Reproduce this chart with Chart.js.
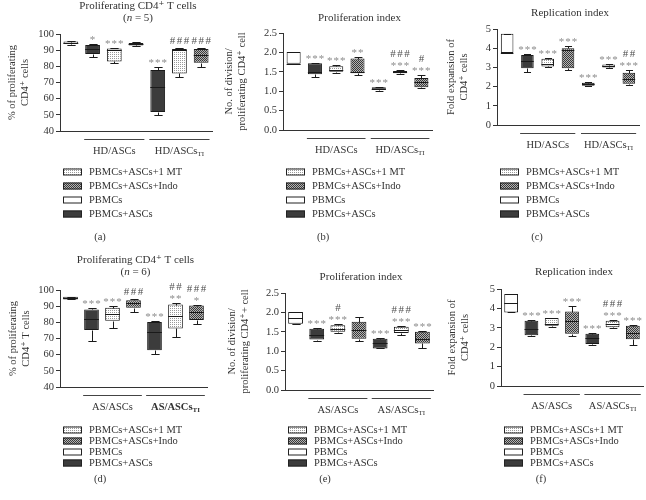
<!DOCTYPE html>
<html>
<head>
<meta charset="utf-8">
<script src="https://cdn.jsdelivr.net/npm/chart.js@4.4.0/dist/chart.umd.min.js"></script>
<style>
  body { margin: 0; background: #fff; }
  #page { position: relative; width: 646px; height: 500px; overflow: hidden; }
  #page canvas { position: absolute; }
</style>
</head>
<body>
<div id="page"></div>
<script>
const FONT = "'Liberation Serif', 'DejaVu Serif', serif";
const INK = "#333";

// categories, same order in every panel
const categories = ["PBMCs", "PBMCs+ASCs", "PBMCs+ASCs+1 MT", "PBMCs+ASCs+Indo", "PBMCs+ASCs", "PBMCs+ASCs+1 MT", "PBMCs+ASCs+Indo"];
const legendLabels = ["PBMCs+ASCs+1 MT", "PBMCs+ASCs+Indo", "PBMCs", "PBMCs+ASCs"];

// box values per category: [min, q1, median, q3, max]
const boxesA = [
  [93.5, 93.8, 94.5, 95.3, 95.5],
  [86.0, 87.6, 91.0, 93.2, 93.6],
  [81.8, 83.0, 90.0, 91.1, 91.5],
  [92.5, 92.9, 93.6, 94.5, 94.9],
  [49.7, 51.8, 67.3, 77.7, 79.3],
  [73.1, 75.6, 90.0, 90.7, 91.1],
  [79.7, 82.2, 87.0, 90.7, 91.1],
];
const starsA = ["", "*", "***", "", "***", "", ""];
const hashesA = ["", "", "", "", "", "###", "###"];

const boxesB = [
  [1.71, 1.71, 1.71, 2.01, 2.01],
  [1.37, 1.44, 1.50, 1.72, 1.73],
  [1.48, 1.50, 1.55, 1.64, 1.67],
  [1.41, 1.46, 1.50, 1.84, 1.87],
  [1.01, 1.03, 1.06, 1.10, 1.11],
  [1.45, 1.46, 1.49, 1.52, 1.54],
  [1.07, 1.10, 1.24, 1.34, 1.43],
];
const starsB = ["", "***", "***", "**", "***", "***", "***"];
const hashesB = ["", "", "", "", "", "###", "#"];

const boxesC = [
  [3.75, 3.75, 3.75, 4.75, 4.75],
  [2.78, 2.95, 3.35, 3.65, 3.68],
  [3.02, 3.05, 3.20, 3.45, 3.50],
  [2.86, 2.95, 3.90, 4.00, 4.13],
  [2.03, 2.05, 2.12, 2.20, 2.22],
  [2.98, 3.00, 3.08, 3.15, 3.20],
  [2.10, 2.15, 2.40, 2.72, 2.86],
];
const starsC = ["", "***", "***", "***", "***", "***", "***"];
const hashesC = ["", "", "", "", "", "", "##"];

const boxesD = [
  [94.2, 94.2, 95.0, 95.9, 95.9],
  [68.6, 75.2, 81.8, 88.0, 88.7],
  [76.8, 81.0, 85.1, 89.0, 90.1],
  [86.6, 89.0, 91.7, 93.6, 94.2],
  [60.3, 62.8, 74.0, 80.2, 81.0],
  [71.0, 76.2, 84.0, 91.0, 92.0],
  [78.9, 81.4, 86.5, 90.4, 91.0],
];
const starsD = ["", "***", "***", "", "***", "**", "*"];
const hashesD = ["", "", "", "###", "", "##", "###"];

const boxesE = [
  [1.71, 1.71, 1.86, 2.01, 2.01],
  [1.27, 1.30, 1.43, 1.58, 1.59],
  [1.48, 1.50, 1.58, 1.67, 1.70],
  [1.27, 1.32, 1.54, 1.76, 1.87],
  [1.07, 1.07, 1.20, 1.32, 1.33],
  [1.41, 1.47, 1.55, 1.63, 1.64],
  [1.07, 1.20, 1.32, 1.50, 1.52],
];
const starsE = ["", "***", "***", "", "***", "***", "***"];
const hashesE = ["", "", "#", "", "", "###", ""];

const boxesF = [
  [3.79, 3.79, 4.28, 4.74, 4.74],
  [2.59, 2.62, 2.95, 3.36, 3.38],
  [3.03, 3.10, 3.20, 3.50, 3.52],
  [2.59, 2.69, 3.33, 3.84, 4.14],
  [2.12, 2.16, 2.47, 2.69, 2.72],
  [3.00, 3.03, 3.20, 3.36, 3.41],
  [2.12, 2.41, 2.72, 3.10, 3.14],
];
const starsF = ["", "***", "***", "***", "***", "***", "***"];
const hashesF = ["", "", "", "", "", "###", ""];

// fill style of each category and of each legend row
const boxKinds = ["plain", "dark", "dots", "check", "dark", "dots", "check"];
const legendKinds = ["dots", "check", "plain", "dark"];

// row layout (canvas-local y)
const ROW_TOP = { legendY: [172, 186, 200, 214], letterY: 237 };
const ROW_BOTTOM = { legendY: [180, 191, 202, 213], letterY: 229 };

const panels = [
  { id: "a", boxes: boxesA, stars: starsA, hashes: hashesA, min: 40, max: 100, step: 10, dec: 0,
    title: ["Proliferating CD4⁺ T cells"], n: 5, yTitle: ["% of proliferating", "CD4⁺ cells"], group: "HD",
    canvas: [0, 0, 216, 250], plot: [60, 34, 212, 131], titleY: [6, 18], yPad: 7, bar: 0.68, row: ROW_TOP },
  { id: "b", boxes: boxesB, stars: starsB, hashes: hashesB, min: 0, max: 2.5, step: 0.5, dec: 1,
    title: ["Proliferation index"], yTitle: ["No. of division/", "proliferating CD4⁺ cell"], group: "HD",
    canvas: [216, 0, 218, 250], plot: [283, 33, 432, 130], titleY: [18], yPad: 8, bar: 0.66, row: ROW_TOP },
  { id: "c", boxes: boxesC, stars: starsC, hashes: hashesC, min: 0, max: 5, step: 1, dec: 0,
    title: ["Replication index"], yTitle: ["Fold expansion of", "CD4⁺ cells"], group: "HD",
    canvas: [434, 0, 212, 250], plot: [497, 29, 639, 125], titleY: [13], yPad: 12, bar: 0.62, row: ROW_TOP },
  { id: "d", boxes: boxesD, stars: starsD, hashes: hashesD, min: 40, max: 100, step: 10, dec: 0,
    title: ["Proliferating CD4⁺ T cells"], n: 6, yTitle: ["% of proliferating", "CD4⁺ T cells"], group: "AS", boldTI: true,
    canvas: [0, 250, 216, 250], plot: [60, 290, 207, 387], titleY: [10, 22], yPad: 8, bar: 0.7, row: ROW_BOTTOM },
  { id: "e", boxes: boxesE, stars: starsE, hashes: hashesE, min: 0, max: 2.5, step: 0.5, dec: 1,
    title: ["Proliferation index"], yTitle: ["No. of division/", "proliferating CD4⁺+ cell"], group: "AS",
    canvas: [216, 250, 218, 250], plot: [285, 293, 433, 390], titleY: [27], yPad: 11, bar: 0.7, row: ROW_BOTTOM },
  { id: "f", boxes: boxesF, stars: starsF, hashes: hashesF, min: 0, max: 5, step: 1, dec: 0,
    title: ["Replication index"], yTitle: ["Fold expansion of", "CD4⁺ cells"], group: "AS",
    canvas: [434, 250, 212, 250], plot: [501, 289, 643, 386], titleY: [22], yPad: 13, bar: 0.68, row: ROW_BOTTOM },
];

// pattern fills
const patternCtx = document.createElement("canvas").getContext("2d");
const makeFill = (kind) => {
  if (kind === "plain") return "#ffffff";
  if (kind === "dark") return "#3c3c3c";
  const c = document.createElement("canvas");
  c.width = 2;
  c.height = 2;
  const g = c.getContext("2d");
  if (kind === "dots") {
    g.fillStyle = "#ffffff";
    g.fillRect(0, 0, 2, 2);
    g.fillStyle = "#9a9a9a";
    g.fillRect(0, 0, 1, 1);
  } else {
    g.fillStyle = "#b4b4b4";
    g.fillRect(0, 0, 2, 2);
    g.fillStyle = "#3a3a3a";
    g.fillRect(0, 0, 1, 1);
    g.fillRect(1, 1, 1, 1);
  }
  return patternCtx.createPattern(c, "repeat");
};
const fills = {};
["plain", "dark", "dots", "check"].forEach((k) => (fills[k] = makeFill(k)));

// draw a run of text pieces centred on cx
const drawRich = (ctx, segs, cx, y) => {
  let total = 0;
  segs.forEach((s) => {
    ctx.font = s.font;
    total += ctx.measureText(s.t).width;
  });
  let x = cx - total / 2;
  ctx.textAlign = "left";
  segs.forEach((s) => {
    ctx.font = s.font;
    ctx.fillText(s.t, x, y + (s.dy || 0));
    x += ctx.measureText(s.t).width;
  });
};

const makeExtras = (p) => ({
  id: "extras" + p.id,
  afterDatasetsDraw(chart) {
    const { ctx, scales: { y } } = chart;
    const bars = chart.getDatasetMeta(0).data;
    const py = (v) => Math.round(y.getPixelForValue(v)) + 0.5;
    ctx.save();
    ctx.strokeStyle = "#1a1a1a";
    ctx.lineWidth = 1;
    bars.forEach((bar, i) => {
      const [lo, q1, med, q3, hi] = p.boxes[i];
      const x = Math.round(bar.x) + 0.5;
      const half = bar.width / 2;
      const cap = Math.max(3, bar.width * 0.28);
      ctx.beginPath();
      ctx.moveTo(x, py(hi));
      ctx.lineTo(x, py(q3));
      ctx.moveTo(x, py(q1));
      ctx.lineTo(x, py(lo));
      ctx.moveTo(x - cap, py(hi));
      ctx.lineTo(x + cap, py(hi));
      ctx.moveTo(x - cap, py(lo));
      ctx.lineTo(x + cap, py(lo));
      ctx.moveTo(bar.x - half, py(med));
      ctx.lineTo(bar.x + half, py(med));
      ctx.stroke();

      // significance marks above the top whisker
      const top = y.getPixelForValue(hi);
      ctx.textAlign = "center";
      ctx.textBaseline = "alphabetic";
      if (p.stars[i]) {
        ctx.font = "11px " + FONT;
        ctx.fillStyle = "#8c8c8c";
        ctx.letterSpacing = "1px";
        ctx.fillText(p.stars[i], bar.x + 0.5, top - 1);
      }
      if (p.hashes[i]) {
        ctx.font = "11px " + FONT;
        ctx.fillStyle = "#505050";
        ctx.letterSpacing = "1.5px";
        ctx.fillText(p.hashes[i], bar.x + 0.8, p.stars[i] ? top - 13 : top - 4);
      }
      ctx.letterSpacing = "0px";
    });
    ctx.restore();
  },
  afterDraw(chart) {
    const { ctx } = chart;
    const [cx, cy] = p.canvas;
    const [pl, pt, pr, pb] = p.plot;
    const bars = chart.getDatasetMeta(0).data;
    const F = "10.5px " + FONT;
    const TF = "11px " + FONT;
    ctx.save();
    ctx.fillStyle = INK;
    ctx.textBaseline = "middle";

    // title
    const mid = (pl + pr) / 2 - cx + 2;
    ctx.textAlign = "center";
    ctx.font = TF;
    ctx.fillText(p.title[0], mid, p.titleY[0]);
    if (p.n) {
      drawRich(ctx, [
        { t: "(", font: TF },
        { t: "n", font: "italic " + TF },
        { t: " = " + p.n + ")", font: TF },
      ], mid, p.titleY[1]);
    }

    // group lines and labels
    const lineY = Math.round(pb - cy + 8) + 0.5;
    const groups = [[1, 3], [4, 6]];
    ctx.strokeStyle = "#444";
    ctx.lineWidth = 1;
    groups.forEach(([a, b], gi) => {
      const x0 = bars[a].x - bars[a].width / 2 - 1;
      const x1 = bars[b].x + bars[b].width / 2 + 1;
      ctx.beginPath();
      ctx.moveTo(x0, lineY);
      ctx.lineTo(x1, lineY);
      ctx.stroke();
      const base = p.group + "/ASCs";
      const bold = gi === 1 && p.boldTI ? "bold " : "";
      const segs = gi === 0
        ? [{ t: base, font: F }]
        : [{ t: base, font: bold + F }, { t: "TI", font: bold + "7px " + FONT, dy: 3 }];
      drawRich(ctx, segs, (x0 + x1) / 2, lineY + 12);
    });

    // legend
    const lx = pl - cx + 3;
    p.row.legendY.forEach((ly, i) => {
      ctx.fillStyle = fills[legendKinds[i]];
      ctx.fillRect(lx, ly - 3.5, 19, 7);
      ctx.strokeStyle = "#222";
      ctx.strokeRect(lx + 0.5, ly - 3, 18, 6);
      ctx.fillStyle = INK;
      ctx.font = F;
      ctx.textAlign = "left";
      ctx.fillText(legendLabels[i], lx + 26, ly);
    });

    // panel letter
    ctx.textAlign = "center";
    ctx.font = F;
    ctx.fillText("(" + p.id + ")", pl - cx + 40, p.row.letterY);
    ctx.restore();
  },
});

const page = document.getElementById("page");

panels.forEach((p) => {
  const [cx, cy, cw, ch] = p.canvas;
  const [pl, pt, pr, pb] = p.plot;
  const el = document.createElement("canvas");
  el.width = cw;
  el.height = ch;
  el.style.left = cx + "px";
  el.style.top = cy + "px";
  page.appendChild(el);

  new Chart(el, {
    type: "bar",
    data: {
      labels: categories,
      datasets: [
        {
          data: p.boxes.map((b) => [b[1], b[3]]),
          backgroundColor: boxKinds.map((k) => fills[k]),
          borderColor: "#1a1a1a",
          borderWidth: 1,
          borderSkipped: false,
          barPercentage: p.bar,
          categoryPercentage: 1,
        },
      ],
    },
    options: {
      responsive: false,
      animation: false,
      devicePixelRatio: 1,
      layout: { padding: { left: 0, top: pt - cy, right: cx + cw - pr, bottom: cy + ch - pb } },
      plugins: { legend: { display: false }, tooltip: { enabled: false } },
      scales: {
        x: {
          grid: { display: false },
          ticks: { display: false },
          border: { color: INK },
          afterFit: (s) => { s.height = 0; },
        },
        y: {
          min: p.min,
          max: p.max,
          ticks: {
            stepSize: p.step,
            color: INK,
            padding: 2,
            font: { family: FONT, size: 10.5 },
            callback: (v) => Number(v).toFixed(p.dec),
          },
          grid: { drawOnChartArea: false, drawTicks: true, tickLength: 4, color: INK },
          border: { color: INK },
          title: {
            display: true,
            text: p.yTitle,
            color: INK,
            font: { family: FONT, size: 10.5 },
            padding: { top: p.yPad - 1, bottom: 0 },
          },
          afterFit: (s) => { s.width = pl - cx; },
        },
      },
    },
    plugins: [makeExtras(p)],
  });
});
</script>
</body>
</html>
